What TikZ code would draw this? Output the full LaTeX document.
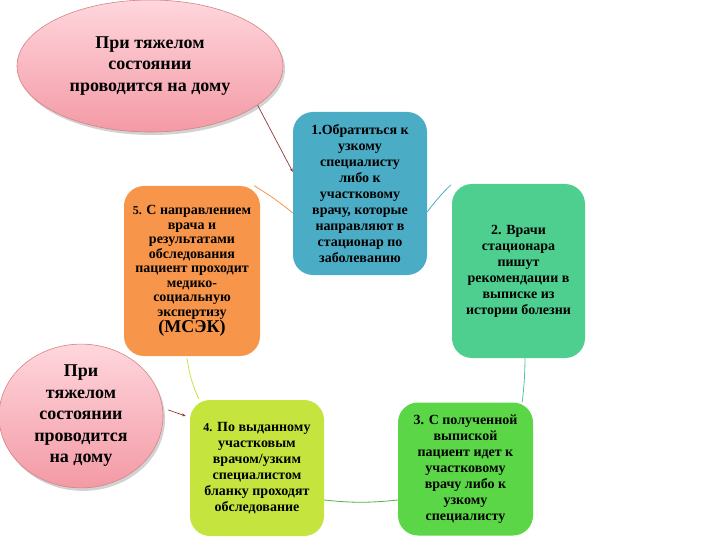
\documentclass[tikz,border=0pt]{standalone}
\usepackage{fontspec}
\setmainfont{Liberation Serif}
\usetikzlibrary{shapes.geometric,shadows,arrows.meta,calc}
\definecolor{cteal}{HTML}{4BACC6}
\definecolor{cgreenA}{HTML}{4ECF8F}
\definecolor{cgreenB}{HTML}{5AD647}
\definecolor{cyellow}{HTML}{C6E43E}
\definecolor{corange}{HTML}{F7954A}
\definecolor{cpinkT}{HTML}{FFD6DD}
\definecolor{cpinkB}{HTML}{F39AA5}
\definecolor{cpinkD}{HTML}{C0504D}
\definecolor{carrow}{HTML}{953735}
\tikzset{
  stepbox/.style={rectangle, rounded corners=20pt, draw=none, align=center,
    font=\bfseries\fontsize{14}{16}\selectfont, inner sep=2pt},
  noteell/.style={ellipse, draw=cpinkD!70, line width=0.6pt, top color=cpinkT, bottom color=cpinkB,
    drop shadow={shadow xshift=2pt, shadow yshift=-3pt, fill=black!35, opacity=0.5},
    align=center, font=\bfseries\fontsize{18}{21.5}\selectfont, inner sep=0pt},
  link/.style={line width=0.8pt},
  redarrow/.style={carrow, line width=0.7pt, -{Stealth[length=4pt,width=3pt]}}
}
\begin{document}
\begin{tikzpicture}[x=1pt,y=-1pt]
\useasboundingbox (0,0) rectangle (720,540);
% boxes
\node[stepbox, fill=cteal, minimum width=134pt, minimum height=163pt] (b1) at (360,193.5)
  {1.Обратиться к\\узкому\\специалисту\\либо к\\участковому\\врачу, которые\\направляют в\\стационар по\\заболеванию};
\node[stepbox, fill=cgreenA, minimum width=133pt, minimum height=174pt] (b2) at (518.5,271)
  {2. Врачи\\стационара\\пишут\\рекомендации в\\выписке из\\истории болезни};
\node[stepbox, fill=cgreenB, minimum width=135pt, minimum height=133pt] (b3) at (465.5,469)
  {3. С полученной\\выпиской\\пациент идет к\\участковому\\врачу либо к\\узкому\\специалисту};
\node[stepbox, fill=cyellow, minimum width=134pt, minimum height=136pt] (b4) at (257,468)
  {{\fontsize{12}{16}\selectfont 4.} По выданному\\участковым\\врачом/узким\\специалистом\\бланку проходят\\обследование};
\node[stepbox, fill=corange, minimum width=136pt, minimum height=170pt, font=\bfseries\fontsize{14}{14.5}\selectfont] (b5) at (192,271)
  {{\fontsize{12}{14.5}\selectfont 5.} С направлением\\врача и\\результатами\\обследования\\пациент проходит\\медико-\\социальную\\экспертизу\\{\fontsize{18}{18}\selectfont (МСЭК)}};
% notes
\node[noteell, minimum width=266pt, minimum height=132pt] (e1) at (150,66)
  {При тяжелом\\состоянии\\проводится на дому};
\node[noteell, minimum width=164pt, minimum height=108pt] (e2) at (81,416)
  {При\\тяжелом\\состоянии\\проводится\\на дому};
% cycle links
\draw[link, corange] ([xshift=-6pt]b5.north east) to[bend left=4] ([yshift=-19.5pt]b1.west);
\draw[link, cteal] ([yshift=-18.5pt]b1.east) to[bend left=4] ([xshift=-1pt,yshift=-1pt]b2.north west);
\draw[link, cgreenA!80!cteal] ([xshift=6.5pt]b2.south) to[bend left=3] ([xshift=-11pt]b3.north east);
\draw[link, cgreenB!85!black] ([yshift=-32pt]b4.east) to[bend right=6] ([yshift=-31pt]b3.west);
\draw[link, cyellow] ([xshift=-5pt,yshift=-2pt]b5.south) to[bend right=8] ([xshift=9pt,yshift=1pt]b4.north west);
% red arrows
\draw[redarrow] (e1.-20) -- ([yshift=21.5pt]b1.west);
\draw[redarrow] ([xshift=5pt,yshift=6pt]e2.east) -- ([xshift=-4pt,yshift=52pt]b4.west);
\end{tikzpicture}
\end{document}
